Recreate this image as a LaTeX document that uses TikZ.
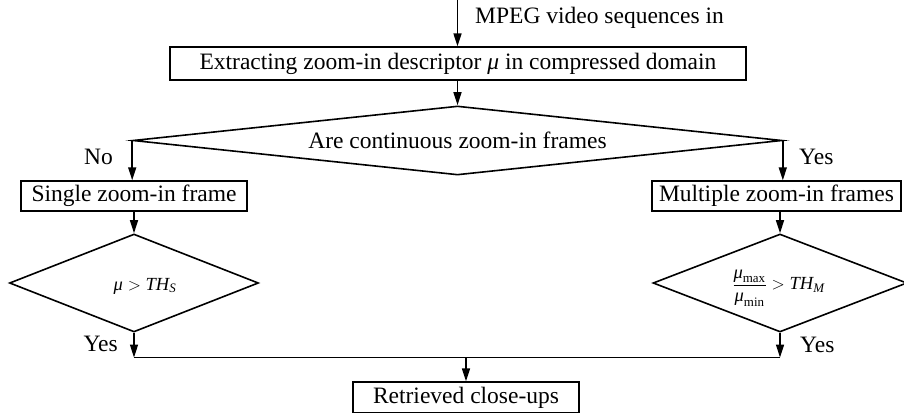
\documentclass[tikz,border=0pt]{standalone}
\usepackage{fontspec}
\usepackage{amsmath}
\setmainfont{Liberation Serif}
\usetikzlibrary{arrows.meta,shapes.geometric}
\begin{document}
\begin{tikzpicture}[x=1pt,y=-1pt,
  every node/.style={font=\fontsize{23.5}{28}\selectfont},
  box/.style={draw,line width=1.4pt,inner sep=0pt,minimum height=30pt},
  decision/.style={draw,diamond,line width=1.6pt,inner sep=0pt},
  conn/.style={line width=1.6pt,-{Triangle[length=13pt,width=8pt]}},
  plainline/.style={line width=1.8pt},
  lbl/.style={inner sep=0pt},
  mathlbl/.style={inner sep=0pt,font=\fontsize{18.5}{22}\selectfont}
]
\useasboundingbox (0,0) rectangle (904,412);

% input
\coordinate (in) at (457.5,0);
\node[lbl,anchor=base west] (inlbl) at (475,24) {MPEG video sequences in};

% boxes
\node[box,minimum width=576pt,minimum height=33pt] (extract) at (458,63.5)
  {Extracting zoom-in descriptor {\itshape μ} in compressed domain};
\node[decision,minimum width=649pt,minimum height=69pt] (q1) at (457.5,140.5) {};
\node[lbl,anchor=base] (q1t) at (457.5,148) {Are continuous zoom-in frames};

\node[box,minimum width=226pt] (single) at (134,196) {Single zoom-in frame};
\node[box,minimum width=249pt] (multi) at (776.5,196) {Multiple zoom-in frames};

\node[decision,minimum width=249pt,minimum height=98pt] (q2) at (134,283) {};
\node[mathlbl] (q2t) at (145,286)
  {$\text{\itshape μ} > \text{\itshape TH}_{\text{\itshape S}}$};

\node[decision,minimum width=254pt,minimum height=98pt] (q3) at (780,283) {};
\node[mathlbl] (q3t) at (778.5,288)
  {$\dfrac{\text{\itshape μ}_{\text{max}}}{\text{\itshape μ}_{\text{min}}} > \text{\itshape TH}_{\text{\itshape M}}$};

\node[box,minimum width=226pt,minimum height=31pt] (result) at (466,397.5) {Retrieved close-ups};

% junction
\coordinate (jl) at (134,357.5);
\coordinate (jr) at (780,357.5);
\coordinate (jm) at (466,357.5);

% labels
\node[lbl,anchor=base east] (no) at (113,164) {No};
\node[lbl,anchor=base west] (yes1) at (799,164) {Yes};
\node[lbl,anchor=base east] (yes2) at (118,351) {Yes};
\node[lbl,anchor=base west] (yes3) at (800,352) {Yes};

% connectors
\draw[conn] (in) -- (in |- extract.north);
\draw[conn] (extract.south -| q1.north) -- (q1.north);
\draw[conn] (q1.west) -- (q1.west |- single.north);
\draw[conn] (q1.east) -- (q1.east |- multi.north);
\draw[conn] (single.south -| q2.north) -- (q2.north);
\draw[conn] (multi.south -| q3.north) -- (q3.north);
\draw[conn] (q2.south) -- (jl);
\draw[conn] (q3.south) -- (jr);
\draw[plainline] (jl) -- (jr);
\draw[conn] (jm) -- (result.north);
\end{tikzpicture}
\end{document}
